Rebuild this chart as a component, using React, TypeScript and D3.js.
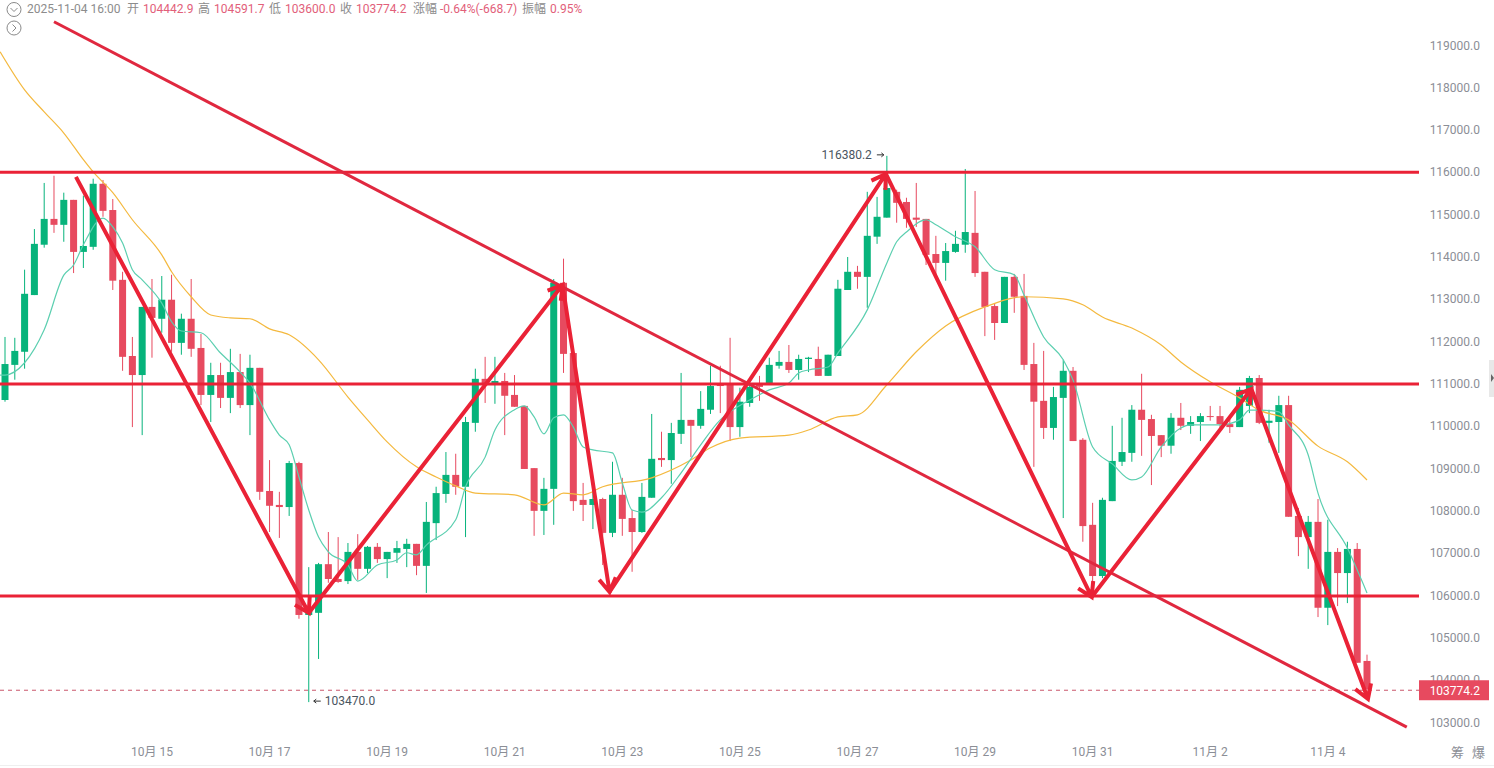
import React from "react";
import * as d3 from "d3";

// 4h candles, 10-12 12:00 to 11-04 16:00
const opens = [
  110610, 111440, 111750, 113090, 114280, 114890, 114750, 115340, 114110, 114230,
  115720, 115100, 113450, 111650, 111200, 112810, 112530, 112980, 111960, 112530,
  111840, 110730, 111200, 110660, 111270, 110490, 111370, 108460, 108130, 108080,
  109120, 105530, 105580, 106730, 106380, 106330, 107020, 106620, 107140, 106850,
  107000, 107090, 107210, 106690, 107700, 108390, 108840, 108560, 110070, 111110,
  111010, 111060, 110730, 110470, 109000, 107990, 108510, 113380, 111720, 108250,
  108130, 108270, 107470, 108370, 107820, 107490, 108300, 109240, 109190, 109810,
  110140, 110000, 110380, 110990, 110970, 109970, 110540, 110990, 110990, 111420,
  111510, 111320, 111580, 111580, 111180, 111650, 113210, 113640, 113520, 114470,
  114920, 115530, 115290, 114920, 114890, 114060, 113850, 114110, 114280, 114560,
  113640, 112830, 112430, 113520, 113070, 111460, 110590, 109950, 110660, 111300,
  109670, 107660, 106450, 108220, 109150, 109360, 110380, 110160, 109780, 109530,
  110190, 110000, 110090, 110230, 110230, 110040, 109970, 110470, 111130, 110070,
  110090, 110490, 107870, 107370, 107730, 105700, 107020, 106520, 107090, 104442.9,
];
const highs = [
  112100, 112080, 113690, 114650, 115740, 115910, 115510, 115340, 115440, 115840,
  115810, 115360, 113640, 112100, 112810, 113470, 113540, 113570, 112650, 113470,
  112170, 111490, 111490, 111820, 111700, 111680, 111370, 109190, 108440, 109170,
  109150, 106660, 106760, 107490, 107370, 107230, 107440, 107160, 107230, 107020,
  107280, 107330, 107210, 108200, 108560, 109380, 109340, 110210, 111350, 111630,
  111630, 111250, 111200, 110470, 109000, 108770, 113470, 113950, 111720, 108650,
  108560, 108300, 109150, 108770, 108010, 108650, 110280, 109860, 110070, 111250,
  110140, 110820, 111420, 111420, 112080, 110900, 111060, 111180, 111610, 111770,
  111910, 111680, 111630, 111870, 111680, 113450, 113990, 113780, 115530, 115410,
  116380.2, 115580, 115390, 115740, 114890, 114490, 114320, 114610, 116070, 115550,
  113640, 112900, 113520, 113590, 113590, 111960, 111770, 110920, 111560, 111390,
  109710, 108180, 108300, 110000, 110190, 110490, 111230, 110260, 109780, 110300,
  110540, 110230, 110300, 110470, 110470, 110190, 110920, 111180, 111200, 110380,
  110710, 110710, 108060, 107870, 108270, 107780, 107110, 107260, 107230, 104591.7,
];
const lows = [
  110570, 111090, 111350, 113090, 114210, 114560, 114350, 113610, 113730, 114160,
  114940, 113210, 111300, 109970, 109780, 111610, 112200, 111750, 111680, 111630,
  110490, 110090, 110420, 110300, 110420, 109780, 108250, 107490, 107350, 107870,
  105440, 103470, 104490, 106290, 106290, 106260, 106360, 106520, 106760, 106400,
  106760, 106660, 106470, 106050, 107300, 108180, 108370, 107370, 109860, 110540,
  110520, 109780, 110450, 108980, 107400, 107420, 107660, 111250, 107990, 107750,
  107560, 106710, 107370, 107400, 106550, 107470, 108300, 109030, 108630, 109570,
  109260, 109930, 110280, 110300, 109640, 109740, 110450, 110590, 110990, 111350,
  111250, 111090, 111270, 111180, 111180, 111650, 113210, 113240, 112790, 114300,
  114920, 114800, 114680, 114700, 113800, 113500, 113430, 114090, 114090, 113520,
  112120, 112030, 112430, 112670, 111320, 109030, 109690, 109670, 107820, 109640,
  107260, 106120, 106400, 108220, 109050, 109150, 109290, 108600, 109260, 109340,
  109900, 109810, 109640, 110120, 109950, 109830, 109970, 110300, 110040, 109600,
  109360, 107850, 106920, 106620, 105480, 105290, 105740, 105810, 104400, 103600,
];
const closes = [
  111460, 111770, 113120, 114300, 114890, 114750, 115340, 114110, 114250, 115720,
  115080, 113430, 111630, 111200, 112810, 112550, 112980, 111960, 112530, 111820,
  110730, 111200, 110660, 111270, 110490, 111370, 108440, 108110, 108080, 109120,
  105530, 105650, 106730, 106380, 106310, 107020, 106620, 107140, 106850, 107020,
  107110, 107210, 106690, 107730, 108410, 108840, 108560, 110090, 111110, 110970,
  111060, 110710, 110450, 108980, 107990, 108510, 113380, 111700, 108220, 108130,
  108270, 107470, 108370, 107800, 107490, 108320, 109220, 109190, 109830, 110140,
  110000, 110400, 110940, 110940, 109970, 110570, 110920, 110920, 111440, 111510,
  111320, 111580, 111610, 111180, 111680, 113240, 113640, 113520, 114490, 114940,
  115620, 115270, 114890, 114870, 114040, 113850, 114130, 114300, 114580, 113610,
  112810, 112430, 113520, 113050, 111440, 110570, 109950, 110680, 111300, 109640,
  107630, 106450, 108250, 109170, 109380, 110380, 110140, 109760, 109530, 110190,
  110000, 110090, 110230, 110210, 110040, 109970, 110850, 111130, 110070, 110120,
  110490, 107850, 107370, 107730, 105700, 107020, 106520, 107090, 104400, 103774.2,
];

// moving averages, read at the candles where the line bends
const fastIdx = [-0.5, 0, 2, 4, 6, 7, 8, 10, 11, 12, 13, 14, 16, 17, 18, 20, 22, 24, 25, 27, 28, 29, 30, 31, 32, 33, 35, 36, 38, 40, 41, 42, 43, 46, 47, 49, 50, 52, 53, 54, 55, 56, 57, 58, 59, 60, 62, 63, 64, 65, 67, 69, 71, 73, 74, 76, 78, 80, 81, 82, 84, 85, 88, 90, 91, 92, 94, 95, 97, 99, 101, 103, 104, 106, 108, 109, 111, 113, 115, 116, 118, 120, 121, 124, 126, 127, 128, 130, 131, 133, 134, 137, 139];
const fastVal = [111200, 111200, 111490, 112270, 113560, 113800, 114280, 114910, 114700, 114320, 113690, 113450, 112900, 112460, 112240, 112200, 111720, 111270, 111010, 110140, 109780, 109550, 108790, 108010, 107370, 107020, 106710, 106330, 106710, 106830, 107000, 106950, 107180, 107780, 108560, 109260, 109900, 110380, 110470, 110210, 109810, 110190, 110260, 109970, 109500, 109430, 109360, 108650, 108010, 107960, 108300, 108890, 109550, 110140, 110330, 110610, 110850, 111010, 111250, 111320, 111390, 111720, 112740, 113850, 114350, 114580, 114870, 114750, 114470, 114230, 113690, 113570, 113090, 112100, 111560, 111080, 109500, 109100, 108720, 108790, 109500, 109950, 110020, 110020, 110140, 110370, 110370, 110330, 110020, 109310, 108410, 107110, 106050];
const slowIdx = [-0.5, 2, 4, 6, 8, 9, 11, 13, 16, 17, 19, 21, 23, 25, 27, 29, 32, 35, 37, 39, 42, 44, 46, 48, 52, 55, 57, 59, 61, 66, 70, 72, 75, 80, 82, 85, 87, 90, 93, 96, 100, 104, 108, 110, 112, 115, 118, 120, 123, 126, 128, 131, 134, 137, 139];
const slowVal = [118840, 117940, 117420, 116920, 116290, 116000, 115510, 114870, 114040, 113640, 113050, 112620, 112550, 112530, 112290, 112150, 111560, 110680, 110140, 109620, 109030, 108790, 108580, 108410, 108370, 108130, 108410, 108370, 108560, 108770, 109190, 109480, 109710, 109780, 109900, 110210, 110260, 110970, 111750, 112360, 112810, 113050, 113000, 112860, 112570, 112310, 111910, 111510, 111040, 110660, 110370, 110140, 109520, 109150, 108720];

const priceTicks = [103000, 104000, 105000, 106000, 107000, 108000, 109000, 110000, 111000, 112000, 113000, 114000, 115000, 116000, 117000, 118000, 119000];
const dateTickIdx = [15, 27, 39, 51, 63, 75, 87, 99, 111, 123, 135];
const dateTickLabels = ["10月 15", "10月 17", "10月 19", "10月 21", "10月 23", "10月 25", "10月 27", "10月 29", "10月 31", "11月 2", "11月 4"];

// hand drawn annotations
const levels = [115995, 110990, 105980];
const trendIdx = [5, 143.06];
const trendPrice = [119550, 102880];
const arrowIdx = [7.24, 31, 56.9, 61.7, 89.9, 110.9, 127.2, 139.1];
const arrowPrice = [115884, 105577, 113331, 106073, 115955, 105955, 110872, 103544];

const headerLabels = ["开", "高", "低", "收", "涨幅", "振幅"];
const headerValues = ["104442.9", "104591.7", "103600.0", "103774.2", "-0.64%(-668.7)", "0.95%"];
const headerLabelX = [127, 198, 269, 340, 413, 522];
const headerValueX = [143, 214, 285, 356, 440, 550];

const width = 1494;
const height = 768;
const plotRight = 1419;
const FONT = "Roboto, 'Noto Sans CJK SC', sans-serif";
const UP = "#06b37b";
const DOWN = "#e74a5f";
const ANNOT = "#ea2236";
const AXIS_TEXT = "#8b8e96";

const x = d3.scaleLinear().domain([0, 139]).range([5, 1367]);
const y = d3.scaleLinear().domain([103000, 119000]).range([722, 45]);

const maLine = d3
  .line<number>()
  .x((d) => x(d))
  .curve(d3.curveMonotoneX);

function arrowPath(i: number) {
  const x0 = x(arrowIdx[i]);
  const y0 = y(arrowPrice[i]);
  const x1 = x(arrowIdx[i + 1]);
  const y1 = y(arrowPrice[i + 1]);
  const a = Math.atan2(y1 - y0, x1 - x0);
  const size = 16;
  const spread = 0.55;
  const bx = (s: number) => x1 - size * Math.cos(a + s * spread);
  const by = (s: number) => y1 - size * Math.sin(a + s * spread);
  return `M${x0},${y0}L${x1},${y1}M${bx(1)},${by(1)}L${x1},${y1}L${bx(-1)},${by(-1)}`;
}

export default function App() {
  const last = closes[closes.length - 1];
  const fastPath = maLine.y((_, i) => y(fastVal[i]))(fastIdx);
  const slowPath = maLine.y((_, i) => y(slowVal[i]))(slowIdx);
  const hiIdx = highs.indexOf(d3.max(highs) as number);
  const loIdx = lows.indexOf(d3.min(lows) as number);
  const hiX = x(hiIdx);
  const hiY = y(highs[hiIdx]);
  const loX = x(loIdx);
  const loY = y(lows[loIdx]);

  return (
    <svg
      width={width}
      height={height}
      style={{ position: "absolute", left: 0, top: 0, background: "#fff", fontFamily: FONT }}
    >
      {/* header */}
      <g fill="none" stroke="#8a8a8a" strokeWidth={1}>
        <circle cx={14} cy={9.5} r={7} />
        <path d="M10.5,8L14,11.5L17.5,8" />
        <circle cx={14} cy={28} r={7} />
        <path d="M12.5,24.5L16,28L12.5,31.5" />
      </g>
      <g fontSize={12}>
        <text x={27} y={12.5} fill="#8c8c8c">2025-11-04 16:00</text>
        {headerLabels.map((t, i) => (
          <text key={t} x={headerLabelX[i]} y={12.5} fill="#8c8c8c">{t}</text>
        ))}
        {headerValues.map((t, i) => (
          <text key={t} x={headerValueX[i]} y={12.5} fill="#e2607a">{t}</text>
        ))}
      </g>

      {/* last price dash */}
      <line x1={0} x2={plotRight} y1={y(last) + 1} y2={y(last) + 1} stroke="#c9566b" strokeDasharray="4 4" strokeWidth={1} />

      {/* candles */}
      {opens.map((o, i) => {
        const c = closes[i];
        const color = c >= o ? UP : DOWN;
        const top = y(Math.max(o, c));
        const bottom = y(Math.min(o, c));
        return (
          <g key={i}>
            <line x1={x(i)} x2={x(i)} y1={y(highs[i])} y2={y(lows[i])} stroke={color} strokeWidth={1} />
            <rect x={x(i) - 3.5} y={top} width={7} height={Math.max(bottom - top, 1)} fill={color} />
          </g>
        );
      })}

      <path d={slowPath as string} fill="none" stroke="#f4b93f" strokeWidth={1.2} />
      <path d={fastPath as string} fill="none" stroke="#5ccfb0" strokeWidth={1.2} />

      {/* high / low markers */}
      <text x={hiX - 15} y={hiY + 3} fontSize={12} textAnchor="end" fill="#4a5560">116380.2</text>
      <path
        d={`M${hiX - 10},${hiY - 1}H${hiX - 3}M${hiX - 5.5},${hiY - 3}L${hiX - 3},${hiY - 1}L${hiX - 5.5},${hiY + 1}`}
        fill="none"
        stroke="#333"
      />
      <path
        d={`M${loX + 12},${loY - 1}H${loX + 5}M${loX + 7.5},${loY - 3}L${loX + 5},${loY - 1}L${loX + 7.5},${loY + 1}`}
        fill="none"
        stroke="#333"
      />
      <text x={loX + 16} y={loY + 3} fontSize={12} fill="#4a5560">103470.0</text>

      {/* annotations */}
      {levels.map((l) => (
        <line key={l} x1={0} x2={plotRight} y1={y(l)} y2={y(l)} stroke={ANNOT} strokeWidth={3} />
      ))}
      <line
        x1={x(trendIdx[0])}
        y1={y(trendPrice[0])}
        x2={x(trendIdx[1])}
        y2={y(trendPrice[1])}
        stroke="#e0283f"
        strokeWidth={3}
      />
      {arrowIdx.slice(0, -1).map((_, i) => (
        <path key={i} d={arrowPath(i)} fill="none" stroke={ANNOT} strokeWidth={4} strokeLinejoin="miter" />
      ))}

      {/* price axis */}
      <g fontSize={12} fill={AXIS_TEXT} textAnchor="end">
        {priceTicks.map((t) => (
          <text key={t} x={1480} y={y(t) + 4.5}>{t.toFixed(1)}</text>
        ))}
      </g>
      <rect x={1419} y={y(last) - 9} width={70} height={20} fill={DOWN} />
      <text x={1480} y={y(last) + 5.5} fontSize={12} fill="#fff" textAnchor="end">{last.toFixed(1)}</text>

      {/* date axis */}
      <g fontSize={12} fill={AXIS_TEXT} textAnchor="middle">
        {dateTickIdx.map((d, i) => (
          <text key={d} x={x(d)} y={756}>{dateTickLabels[i]}</text>
        ))}
      </g>
      <text x={1451} y={757} fontSize={13} fill={AXIS_TEXT}>筹</text>
      <text x={1472} y={757} fontSize={13} fill={AXIS_TEXT}>爆</text>
      <line x1={0} x2={width} y1={765.5} y2={765.5} stroke="#efefef" />

      <rect x={1489} y={360} width={5} height={37} fill="#e8e8e8" />
      <path d="M1491,374L1494,378L1491,382Z" fill="#666" />
    </svg>
  );
}
